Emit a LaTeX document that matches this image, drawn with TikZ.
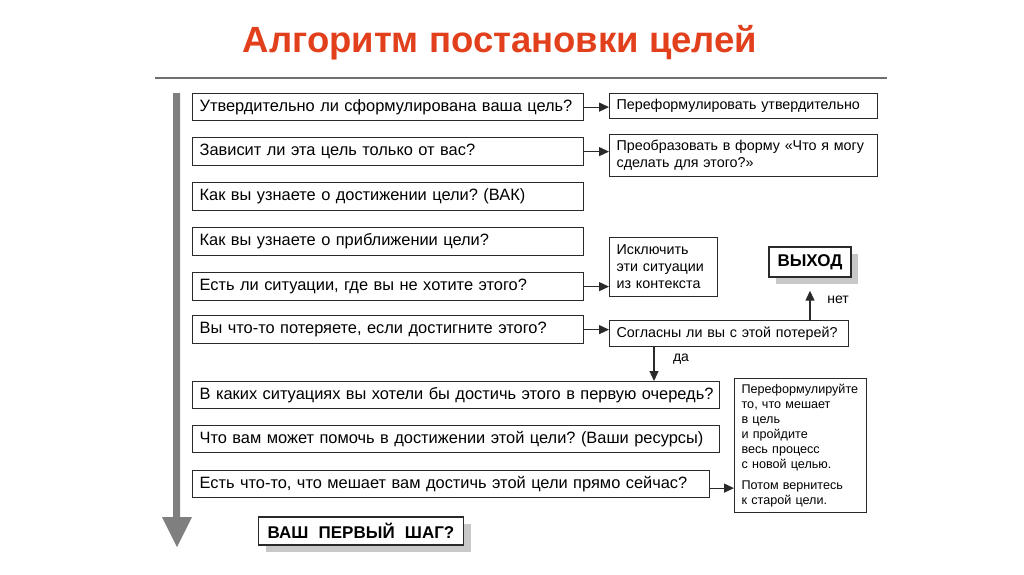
\documentclass[tikz,border=0pt]{standalone}
\usepackage{fontspec}
\setmainfont{Liberation Sans}
\usetikzlibrary{arrows.meta,calc,shadows}
\definecolor{titlered}{HTML}{E2401C}
\definecolor{boxc}{HTML}{2A2A2A}
\definecolor{arrowgray}{HTML}{7F7F7F}
\definecolor{rulegray}{HTML}{6E6E6E}
\definecolor{shadowgray}{HTML}{C8C8C8}
\frenchspacing
\begin{document}
\begin{tikzpicture}[x=1pt,y=-1pt,
  qbox/.style={draw=boxc, line width=1.2pt, anchor=north west, inner xsep=7pt, inner ysep=0pt,
    align=left, font=\fontsize{16.4}{18}\selectfont, minimum height=28pt},
  rbox/.style={draw=boxc, line width=1.2pt, anchor=north west, inner xsep=7pt, inner ysep=0pt,
    align=left, font=\fontsize{14.3}{17}\selectfont},
  sbox/.style={draw=boxc, line width=1.4pt, fill=white, inner ysep=0pt,
    font=\bfseries\fontsize{17}{20}\selectfont,
    drop shadow={shadow xshift=7pt, shadow yshift=-7pt, fill=shadowgray, opacity=1}},
  arr/.style={draw=boxc, line width=1.2pt, -{Triangle[length=10pt,width=9pt]}},
  lbl/.style={font=\fontsize{14}{16}\selectfont, inner sep=0pt}
]
\useasboundingbox (0,0) rectangle (1024,574);

% title and rule
\node[font=\bfseries\fontsize{36.5}{40}\selectfont, text=titlered, inner sep=0pt] (title) at (500,43) {Алгоритм постановки целей};
\draw[rulegray, line width=2pt] (155,78) -- (887,78);

% big gray arrow
\fill[arrowgray] (173,93) -- (180,93) -- (180,517) -- (192,517) -- (177,547) -- (162,517) -- (173,517) -- cycle;

% left question boxes
\node[qbox, text width=377pt, minimum height=27pt] (q1) at (192,93) {\mbox{Утвердительно ли сформулирована ваша цель?}};
\node[qbox, text width=377pt] (q2) at (192,137) {\mbox{Зависит ли эта цель только от вас?}};
\node[qbox, text width=377pt] (q3) at (192,182) {\mbox{Как вы узнаете о достижении цели? (ВАК)}};
\node[qbox, text width=377pt] (q4) at (192,227) {\mbox{Как вы узнаете о приближении цели?}};
\node[qbox, text width=377pt] (q5) at (192,272) {\mbox{Есть ли ситуации, где вы не хотите этого?}};
\node[qbox, text width=377pt] (q6) at (192,315) {\mbox{Вы что-то потеряете, если достигните этого?}};
\node[qbox, text width=513pt, minimum height=27pt] (q7) at (192,381) {\mbox{В каких ситуациях вы хотели бы достичь этого в первую очередь?}};
\node[qbox, text width=513pt, minimum height=27pt] (q8) at (192,425) {\mbox{Что вам может помочь в достижении этой цели? (Ваши ресурсы)}};
\node[qbox, text width=503pt, minimum height=27pt] (q9) at (192,470) {\mbox{Есть что-то, что мешает вам достичь этой цели прямо сейчас?}};

% bottom step box
\node[sbox, minimum width=205pt, minimum height=28pt] (step1) at (361,531) {ВАШ\hspace{0.6em}ПЕРВЫЙ\hspace{0.6em}ШАГ?};

% right boxes
\node[rbox, text width=254pt, minimum height=25pt] (r1) at (609,93) {\mbox{Переформулировать утвердительно}};
\node[rbox, text width=254pt, minimum height=42pt] (r2) at (609,134) {Преобразовать в форму «Что я могу\\сделать для этого?»};
\node[rbox, text width=94pt, minimum height=59pt] (r3) at (609,237) {Исключить\\эти ситуации\\из контекста};
\node[sbox, minimum width=82pt, minimum height=30pt] (r4) at (810,262) {ВЫХОД};
\node[rbox, text width=225pt, minimum height=26pt] (r5) at (609,320) {\mbox{Согласны ли вы с этой потерей?}};
\node[rbox, text width=118pt, minimum height=134pt, font=\fontsize{12.6}{15}\selectfont] (r6) at (734,378)
  {Переформулируйте\\то, что мешает\\в цель\\и пройдите\\весь процесс\\с новой целью.\\[6pt]Потом вернитесь\\к старой цели.};

% connectors
\draw[arr] (q1.east) -- (q1.east -| r1.west);
\draw[arr] (q2.east) -- (q2.east -| r2.west);
\draw[arr] (q5.east) -- (q5.east -| r3.west);
\draw[arr] (q6.east) -- (q6.east -| r5.west);
\draw[arr] ($(q9.east)+(0,4)$) -- ($(q9.east -| r6.west)+(0,4)$);
\coordinate (dax) at (654,0);
\draw[arr] (r5.south -| dax) -- (q7.north -| dax);
\node[lbl] (da) at (681,359) {да};
\draw[arr, shorten >=13pt] (r4.south |- r5.north) -- (r4.south);
\node[lbl] (net) at (838,300) {нет};
\end{tikzpicture}
\end{document}
